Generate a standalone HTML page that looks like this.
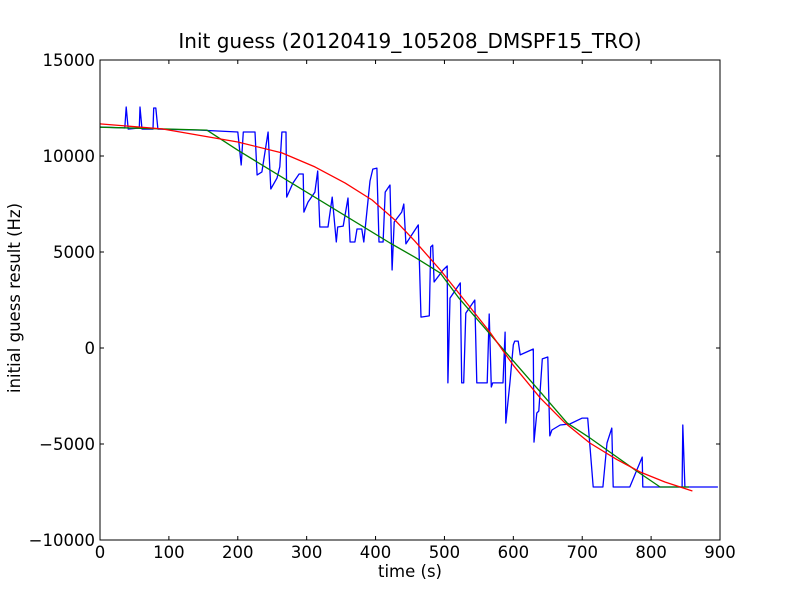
<!DOCTYPE html>
<html><head><meta charset="utf-8"><style>
html,body{margin:0;padding:0;background:#fff;}
svg{display:block;font-family:"DejaVu Sans","Liberation Sans",sans-serif;}
</style></head><body>
<svg id="chart" width="800" height="600" viewBox="0 0 800 600">
<rect width="800" height="600" fill="#fff"/>
<text x="410" y="48" font-size="20" text-anchor="middle">Init guess (20120419_105208_DMSPF15_TRO)</text>
<text x="410" y="577" font-size="16.5" text-anchor="middle">time (s)</text>
<text transform="translate(20,298) rotate(-90)" font-size="16.5" text-anchor="middle">initial guess result (Hz)</text>
<g id="series"></g>
<g id="axes"></g>
</svg>
<script>
const xTicks=[0,100,200,300,400,500,600,700,800,900];
const yTicks=[-10000,-5000,0,5000,10000,15000];
const yTickLabels=["\u221210000","\u22125000","0","5000","10000","15000"];
const blueT=[0,36,38,41,57,58,61,77,78,81,84,145,200,205,208,225,228,235,244,248,257,261,264,270,271,280,289,295,296,302,312,316,319,331,337,343,345,353,360,363,370,373,380,383,392,396,402,405,411,414,421,424,427,438,441,444,462,466,478,480,483,485,498,504,505,508,523,525,528,531,544,547,562,565,568,570,585,588,589,595,600,602,607,610,629,630,634,637,642,650,653,656,668,682,700,708,716,730,736,743,745,769,787,788,845,846,849,890,897];
const blueV=[11510,11460,12550,11400,11460,12550,11400,11400,12500,12500,11400,11350,11250,9530,11250,11250,9010,9170,11250,8280,8850,9430,11250,11250,7860,8590,9060,9060,7080,7600,8120,9220,6300,6300,7860,5520,6300,6350,7810,5520,5520,6200,6200,5520,8700,9320,9370,5520,5520,8120,8490,4060,6560,7080,7500,5420,6410,1610,1670,5260,5360,3440,4060,4270,-1820,2600,3390,-1820,-1820,1820,2500,-1820,-1820,1770,-2030,-1820,-1820,830,-3910,-1820,160,360,360,-360,-50,-4900,-3390,-3280,-570,-470,-4580,-4270,-4010,-3960,-3650,-3650,-7240,-7240,-4950,-4170,-7240,-7240,-5680,-7240,-7240,-4010,-7240,-7240,-7240];
const greenT=[0,155,200,421,457,494,521,586,637,678,709,781,813,855];
const greenV=[11500,11350,10300,5470,4730,3900,2600,-100,-2200,-3900,-4630,-6460,-7240,-7240];
const redT=[0,90,200,264,312,356,395,428,457,494,530,566,600,639,675,711,750,784,820,860];
const redV=[11670,11410,10730,10160,9430,8590,7710,6670,5570,4060,2450,830,-900,-2600,-3900,-4950,-5800,-6460,-6980,-7450];
const X0=100,X1=720,Y0=540,Y1=60;
const xs=t=>X0+(t-0)/(900-0)*(X1-X0);
const ys=v=>Y0-(v-(-10000))/(15000-(-10000))*(Y0-Y1);
const NS="http://www.w3.org/2000/svg";
const sg=document.getElementById('series'), ag=document.getElementById('axes');
function line(T,V,color,name){
  const p=document.createElementNS(NS,'polyline');
  p.setAttribute('points',T.map((t,i)=>xs(t).toFixed(1)+','+ys(V[i]).toFixed(1)).join(' '));
  p.setAttribute('fill','none');p.setAttribute('stroke',color);p.setAttribute('stroke-width','1.3');
  p.setAttribute('stroke-linejoin','round');
  
  
  sg.appendChild(p);
}
line(blueT,blueV,'#0000ff','measured-series-line');
line(greenT,greenV,'#008000','fit-series-line');
line(redT,redV,'#ff0000','model-series-line');
const frame=document.createElementNS(NS,'rect');
frame.setAttribute('x',X0);frame.setAttribute('y',Y1);frame.setAttribute('width',X1-X0);frame.setAttribute('height',Y0-Y1);
frame.setAttribute('fill','none');frame.setAttribute('stroke','#000');frame.setAttribute('stroke-width','1');


ag.appendChild(frame);
function tick(x1,y1,x2,y2){const l=document.createElementNS(NS,'line');l.setAttribute('x1',x1);l.setAttribute('y1',y1);l.setAttribute('x2',x2);l.setAttribute('y2',y2);l.setAttribute('stroke','#000');


ag.appendChild(l);}
xTicks.forEach(t=>{const x=xs(t);tick(x,Y0,x,Y0-4);tick(x,Y1,x,Y1+4);
 const tx=document.createElementNS(NS,'text');tx.setAttribute('x',x);tx.setAttribute('y',Y0+18);tx.setAttribute('font-size','16.5');tx.setAttribute('text-anchor','middle');tx.textContent=t;
 
 
 ag.appendChild(tx);});
yTicks.forEach((v,i)=>{const y=ys(v);tick(X0,y,X0+4,y);tick(X1,y,X1-4,y);
 const tx=document.createElementNS(NS,'text');tx.setAttribute('x',X0-5);tx.setAttribute('y',y+6);tx.setAttribute('font-size','16.5');tx.setAttribute('text-anchor','end');tx.textContent=yTickLabels[i];
 
 
 ag.appendChild(tx);});
</script>
</body></html>
